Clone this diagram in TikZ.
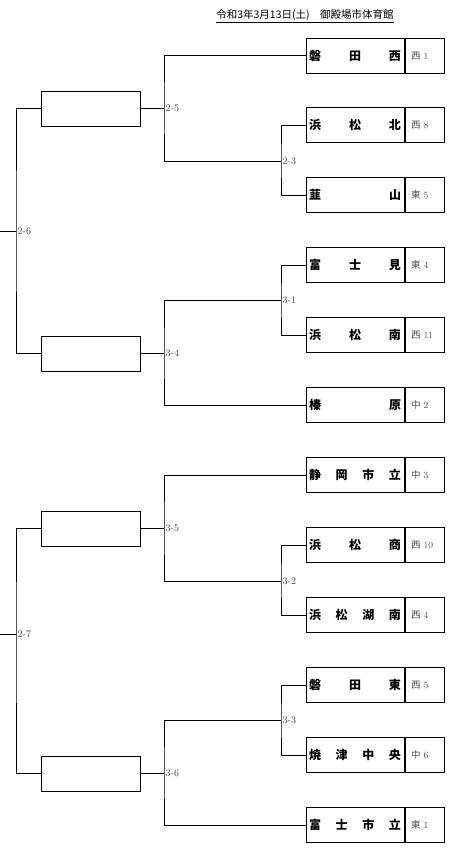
\documentclass[tikz,border=0pt]{standalone}
\usepackage{fontspec}
\newfontfamily\jpfont{Noto Sans CJK JP}
\usetikzlibrary{positioning}

\newcommand\teamname[1]{\hbox to 92pt{#1}}
\newcommand\area[2]{{\jpfont #1}~#2}

\begin{document}
\begin{tikzpicture}[x=1pt, y=-1pt,
  team/.style={draw, line width=1pt, minimum width=98pt, minimum height=35pt, inner xsep=3pt, font=\jpfont\bfseries\fontsize{12}{12}\selectfont},
  code/.style={draw, line width=1pt, minimum height=35pt, text width=27pt, inner xsep=6pt, align=left, text=black!70, font=\fontsize{9.5}{9.5}\selectfont},
  win/.style={draw, line width=1pt, minimum width=99pt, minimum height=35pt},
  score/.style={anchor=west, inner sep=1.5pt, text=black!75, font=\fontsize{10}{10}\selectfont},
  line/.style={line width=1pt}
]
\useasboundingbox (0,0) rectangle (455,851);

\node[font=\jpfont\fontsize{10.5}{10.5}\selectfont] (title) at (305,16) {\underline{令和3年3月13日(土)　御殿場市体育館}};

% teams
\node[team] (t1) at (355,56) {\teamname{磐\hfil 田\hfil 西}};
\node[code, right=0pt of t1] (c1) {\area{西}{1}};
\node[team] (t2) at (355,125) {\teamname{浜\hfil 松\hfil 北}};
\node[code, right=0pt of t2] (c2) {\area{西}{8}};
\node[team] (t3) at (355,195) {\teamname{韮\hfil 山}};
\node[code, right=0pt of t3] (c3) {\area{東}{5}};
\node[team] (t4) at (355,265) {\teamname{富\hfil 士\hfil 見}};
\node[code, right=0pt of t4] (c4) {\area{東}{4}};
\node[team] (t5) at (355,335) {\teamname{浜\hfil 松\hfil 南}};
\node[code, right=0pt of t5] (c5) {\area{西}{11}};
\node[team] (t6) at (355,405) {\teamname{榛\hfil 原}};
\node[code, right=0pt of t6] (c6) {\area{中}{2}};
\node[team] (t7) at (355,475) {\teamname{静\hfil 岡\hfil 市\hfil 立}};
\node[code, right=0pt of t7] (c7) {\area{中}{3}};
\node[team] (t8) at (355,545) {\teamname{浜\hfil 松\hfil 商}};
\node[code, right=0pt of t8] (c8) {\area{西}{10}};
\node[team] (t9) at (355,615) {\teamname{浜\hfil 松\hfil 湖\hfil 南}};
\node[code, right=0pt of t9] (c9) {\area{西}{4}};
\node[team] (t10) at (355,685) {\teamname{磐\hfil 田\hfil 東}};
\node[code, right=0pt of t10] (c10) {\area{西}{5}};
\node[team] (t11) at (355,755) {\teamname{焼\hfil 津\hfil 中\hfil 央}};
\node[code, right=0pt of t11] (c11) {\area{中}{6}};
\node[team] (t12) at (355,825) {\teamname{富\hfil 士\hfil 市\hfil 立}};
\node[code, right=0pt of t12] (c12) {\area{東}{1}};

% winner boxes
\node[win] (w1) at (90.5,108.5) {};
\node[win] (w2) at (90.5,353.5) {};
\node[win] (w3) at (90.5,528.5) {};
\node[win] (w4) at (90.5,773.5) {};

% junctions
\coordinate (j23) at (281,161);
\coordinate (j31) at (281,300.5);
\coordinate (j32) at (281,581);
\coordinate (j33) at (281,720.5);
\coordinate (j25) at (164,108.5);
\coordinate (j34) at (164,353.5);
\coordinate (j35) at (164,528.5);
\coordinate (j36) at (164,773.5);
\coordinate (j26) at (16,231);
\coordinate (j27) at (16,634);
\coordinate (s26) at (0,231);
\coordinate (s27) at (0,634);

\draw[line] (t2.west) -| (j23) |- (t3.west);
\draw[line] (t4.west) -| (j31) |- (t5.west);
\draw[line] (t8.west) -| (j32) |- (t9.west);
\draw[line] (t10.west) -| (j33) |- (t11.west);

\draw[line] (t1.west) -| (j25) |- (j23);
\draw[line] (j31) -| (j34) |- (t6.west);
\draw[line] (t7.west) -| (j35) |- (j32);
\draw[line] (j33) -| (j36) |- (t12.west);

\draw[line] (w1.east) -- (j25);
\draw[line] (w2.east) -- (j34);
\draw[line] (w3.east) -- (j35);
\draw[line] (w4.east) -- (j36);

\draw[line] (w1.west) -| (j26) |- (w2.west);
\draw[line] (w3.west) -| (j27) |- (w4.west);
\draw[line] (s26) -- (j26);
\draw[line] (s27) -- (j27);

% scores
\node[score] (l23) at (j23) {2-3};
\node[score] (l31) at (j31) {3-1};
\node[score] (l32) at (j32) {3-2};
\node[score] (l33) at (j33) {3-3};
\node[score] (l25) at (j25) {2-5};
\node[score] (l34) at (j34) {3-4};
\node[score] (l35) at (j35) {3-5};
\node[score] (l36) at (j36) {3-6};
\node[score] (l26) at (j26) {2-6};
\node[score] (l27) at (j27) {2-7};
\end{tikzpicture}
\end{document}
